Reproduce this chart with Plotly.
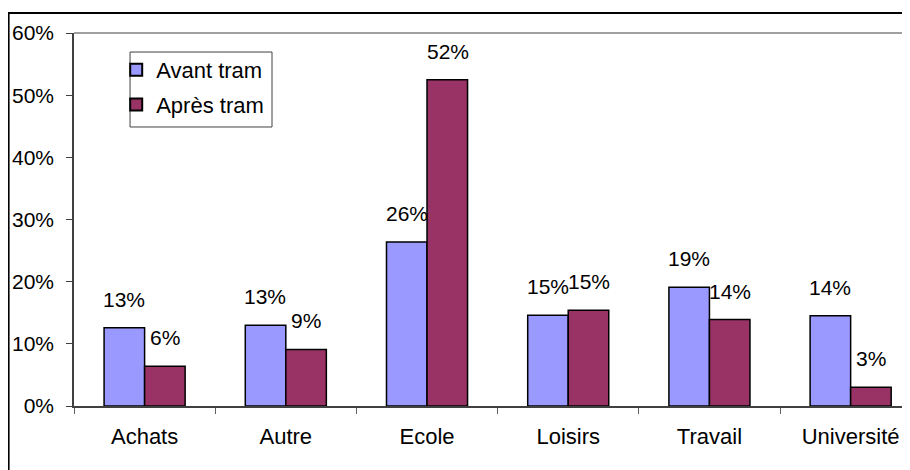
import plotly.graph_objects as go

categories = ["Achats", "Autre", "Ecole", "Loisirs", "Travail", "Université"]
avant = [12.6, 13.0, 26.4, 14.6, 19.1, 14.5]
apres = [6.4, 9.1, 52.5, 15.4, 13.9, 3.0]
avant_labels = ["13%", "13%", "26%", "15%", "19%", "14%"]
apres_labels = ["6%", "9%", "52%", "15%", "14%", "3%"]
y_ticks = [0, 10, 20, 30, 40, 50, 60]
y_tick_labels = ["0%", "10%", "20%", "30%", "40%", "50%", "60%"]

FONT = "Liberation Sans, Arial, sans-serif"
fig = go.Figure()
fig.add_bar(x=categories, y=avant, name="Avant tram", legendgroup="a",
            marker=dict(color="#9999FF", line=dict(color="black", width=1.5)))
fig.add_bar(x=categories, y=apres, name="Après tram", legendgroup="b",
            marker=dict(color="#993366", line=dict(color="black", width=1.5)))

for i, (v, t) in enumerate(zip(avant, avant_labels)):
    fig.add_annotation(x=i - 0.145, y=v, text=t, showarrow=False, xref="x", yref="y",
                       yanchor="bottom", yshift=15, font=dict(size=21, color="black", family=FONT))
for i, (v, t) in enumerate(zip(apres, apres_labels)):
    fig.add_annotation(x=i + 0.145, y=v, text=t, showarrow=False, xref="x", yref="y",
                       yanchor="bottom", yshift=15, font=dict(size=21, color="black", family=FONT))

# plot area top border (gray)
fig.add_shape(type="line", xref="paper", yref="paper", x0=0, x1=1, y0=1, y1=1,
              line=dict(color="#808080", width=1.5), layer="below")
# legend frame
fig.add_shape(type="rect", xref="paper", yref="paper", x0=0.0664, x1=0.2346, y0=0.748, y1=0.949,
              line=dict(color="#404040", width=1), fillcolor="white", layer="above")
# outer chart border
fig.add_shape(type="rect", xref="paper", yref="paper", x0=-0.0775, x1=1.1, y0=-0.3, y1=1.0536,
              line=dict(color="black", width=2), fillcolor="rgba(0,0,0,0)")

fig.update_layout(
    width=910, height=470,
    margin=dict(l=66, r=0, t=25, b=72),
    paper_bgcolor="white", plot_bgcolor="white",
    barmode="group", bargap=0.426, bargroupgap=0,
    font=dict(family=FONT, size=21, color="black"),
    showlegend=True,
    legend=dict(x=0.05, y=0.957, xanchor="left", yanchor="top",
                borderwidth=0, bgcolor="rgba(0,0,0,0)",
                font=dict(size=22, family=FONT), itemsizing="constant",
                traceorder="grouped", tracegroupgap=3, itemwidth=30),
    xaxis=dict(range=[-0.5, 5.477], showline=True, linecolor="#404040", linewidth=1.5,
               ticks="outside", tickson="boundaries", ticklen=6, tickcolor="#606060",
               ticklabelstandoff=10,
               showgrid=False, tickfont=dict(size=22, family=FONT)),
    yaxis=dict(range=[0, 60], tickmode="array", tickvals=y_ticks, ticktext=y_tick_labels,
               showline=True, linecolor="#404040", linewidth=1.5, ticks="outside", ticklen=6,
               tickcolor="#404040", showgrid=False, zeroline=False, ticklabelstandoff=8,
               tickfont=dict(size=21, family=FONT)),
)

fig.write_html("out.html")
